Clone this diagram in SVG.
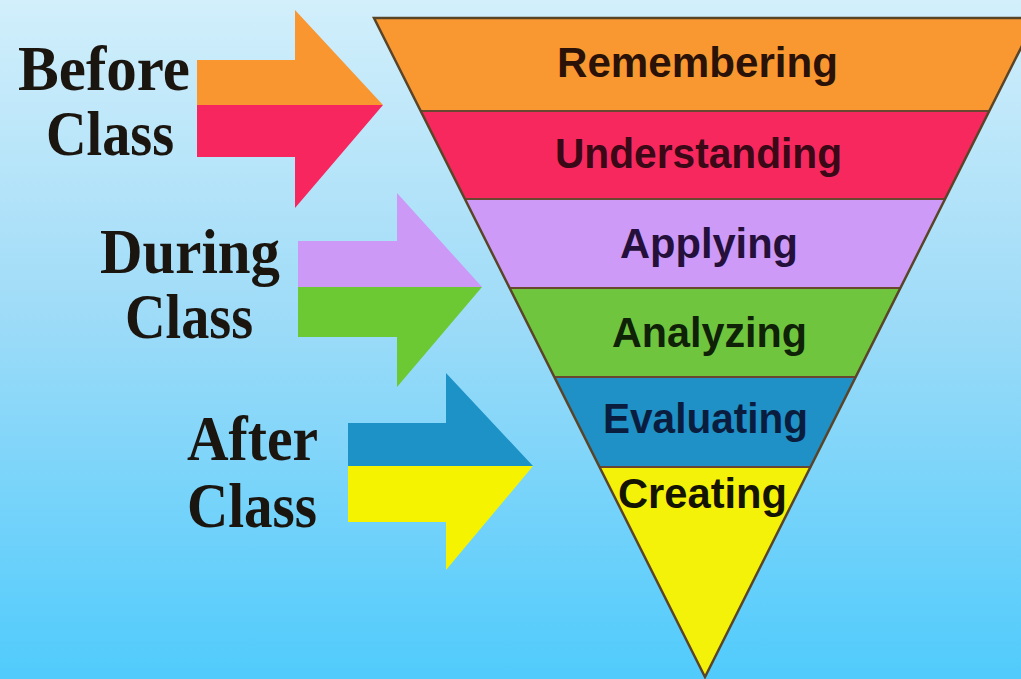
<svg xmlns="http://www.w3.org/2000/svg" width="1021" height="679" viewBox="0 0 1021 679">
  <defs>
    <linearGradient id="bg" x1="0" y1="0" x2="0" y2="1">
      <stop offset="0" stop-color="#d2effb"/>
      <stop offset="0.45" stop-color="#a0dcf8"/>
      <stop offset="1" stop-color="#50cbfc"/>
    </linearGradient>
  </defs>
  <style>
    .lvl { font-family: "Liberation Sans", Arial, sans-serif; font-weight: bold; font-size: 42px; text-anchor: start; }
    .side { font-family: "Liberation Serif", "Times New Roman", serif; font-weight: bold; font-size: 64px; fill: #1b1510; }
    .sep { stroke: #6a4630; stroke-width: 2; fill: none; }
    .outline { stroke: #5a4428; stroke-width: 2.5; fill: none; stroke-linejoin: miter; }
  </style>
  <rect x="0" y="0" width="1021" height="679" fill="url(#bg)"/>

  <!-- Pyramid (inverted triangle) -->
  <g id="pyramid">
    <g id="remembering">
      <polygon points="374,18 1036,18 989.3,111 420.7,111" fill="#f99830"/>
      <text class="lvl" x="557" y="77" textLength="281" lengthAdjust="spacingAndGlyphs" fill="#2a1208">Remembering</text>
    </g>
    <g id="understanding">
      <polygon points="420.7,111 989.3,111 945.1,199 464.9,199" fill="#f6285e"/>
      <text class="lvl" x="555" y="168" textLength="287" lengthAdjust="spacingAndGlyphs" fill="#3a0816">Understanding</text>
    </g>
    <g id="applying">
      <polygon points="464.9,199 945.1,199 900.4,288 509.6,288" fill="#cd9bf7"/>
      <text class="lvl" x="620" y="258" textLength="178" lengthAdjust="spacingAndGlyphs" fill="#24103a">Applying</text>
    </g>
    <g id="analyzing">
      <polygon points="509.6,288 900.4,288 855.7,377 554.3,377" fill="#6fc63e"/>
      <text class="lvl" x="612" y="347" textLength="195" lengthAdjust="spacingAndGlyphs" fill="#0f2208">Analyzing</text>
    </g>
    <g id="evaluating">
      <polygon points="554.3,377 855.7,377 810.5,467 599.5,467" fill="#1f91c6"/>
      <text class="lvl" x="603" y="433" textLength="205" lengthAdjust="spacingAndGlyphs" fill="#0a1d3e">Evaluating</text>
    </g>
    <g id="creating">
      <polygon points="599.5,467 810.5,467 705,677" fill="#f5f20a"/>
      <text class="lvl" x="618" y="508" textLength="169" lengthAdjust="spacingAndGlyphs" fill="#141400">Creating</text>
    </g>
    <g id="pyramid-lines">
      <line class="sep" x1="420.7" y1="111" x2="989.3" y2="111"/>
      <line class="sep" x1="464.9" y1="199" x2="945.1" y2="199"/>
      <line class="sep" x1="509.6" y1="288" x2="900.4" y2="288"/>
      <line class="sep" x1="554.3" y1="377" x2="855.7" y2="377"/>
      <line class="sep" x1="599.5" y1="467" x2="810.5" y2="467"/>
      <polygon class="outline" points="374,18 1036,18 705,677"/>
    </g>
  </g>

  <!-- Side labels -->
  <g id="before-class">
    <text class="side" x="18" y="90" textLength="172" lengthAdjust="spacingAndGlyphs">Before</text>
    <text class="side" x="46" y="155" textLength="128" lengthAdjust="spacingAndGlyphs">Class</text>
  </g>
  <g id="during-class">
    <text class="side" x="100" y="273" textLength="180" lengthAdjust="spacingAndGlyphs">During</text>
    <text class="side" x="125" y="338" textLength="128" lengthAdjust="spacingAndGlyphs">Class</text>
  </g>
  <g id="after-class">
    <text class="side" x="187" y="460" textLength="131" lengthAdjust="spacingAndGlyphs">After</text>
    <text class="side" x="187" y="527" textLength="130" lengthAdjust="spacingAndGlyphs">Class</text>
  </g>

  <!-- Arrows (connectors) -->
  <g id="connectors">
    <g id="arrow-before">
      <polygon points="197,60 295,60 295,10 383,105 197,105" fill="#f9962f"/>
      <polygon points="197,105 383,105 295,208 295,157 197,157" fill="#f7265e"/>
    </g>
    <g id="arrow-during">
      <polygon points="298,241 397,241 397,193 482,287 298,287" fill="#cc99f7"/>
      <polygon points="298,287 482,287 397,387 397,337 298,337" fill="#6cc833"/>
    </g>
    <g id="arrow-after">
      <polygon points="348,423 446,423 446,373 533,466 348,466" fill="#1c92c6"/>
      <polygon points="348,466 533,466 446,570 446,522 348,522" fill="#f5f300"/>
    </g>
  </g>
</svg>
